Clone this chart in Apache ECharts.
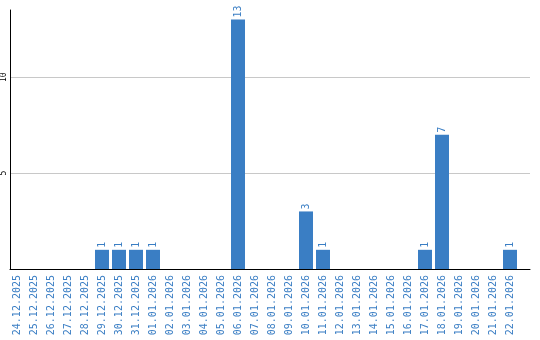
<!DOCTYPE html>
<html><head><meta charset="utf-8">
<script src="https://cdn.jsdelivr.net/npm/echarts@6/dist/echarts.min.js"></script>
<style>html,body{margin:0;padding:0;background:#fff}#c{width:540px;height:340px}</style>
</head><body><div id="c"></div>
<script>
var categories = ['24.12.2025','25.12.2025','26.12.2025','27.12.2025','28.12.2025','29.12.2025','30.12.2025','31.12.2025','01.01.2026','02.01.2026','03.01.2026','04.01.2026','05.01.2026','06.01.2026','07.01.2026','08.01.2026','09.01.2026','10.01.2026','11.01.2026','12.01.2026','13.01.2026','14.01.2026','15.01.2026','16.01.2026','17.01.2026','18.01.2026','19.01.2026','20.01.2026','21.01.2026','22.01.2026'];
var values = [0,0,0,0,0,1,1,1,1,0,0,0,0,13,0,0,0,3,1,0,0,0,0,0,1,7,0,0,0,1];
var yTicks = [5, 10];

var blue = '#3a7ec4';
var mono = 'DejaVu Sans Mono';
var chart = echarts.init(document.getElementById('c'));
chart.setOption({
  animation: false,
  grid: [
    {left: 10, right: 10, top: 10, bottom: 71},
    {left: 8.5, width: 510, top: 10, bottom: 71}
  ],
  xAxis: [
    {type: 'value', gridIndex: 0, min: 0, max: 1, axisLabel: {show: false}, axisTick: {show: false}, splitLine: {show: false},
     axisLine: {show: true, onZero: false, lineStyle: {color: '#000', width: 1}}},
    {type: 'category', gridIndex: 1, data: categories, axisLine: {show: false}, axisTick: {show: false},
     axisLabel: {interval: 0, rotate: 90, margin: 6, color: blue, fontFamily: mono, fontSize: 10}}
  ],
  yAxis: [
    {type: 'value', gridIndex: 0, min: 0, max: 13.5, interval: 5,
     axisLine: {show: true, lineStyle: {color: '#000', width: 1}}, axisTick: {show: false},
     splitLine: {show: true, showMinLine: false, showMaxLine: false, lineStyle: {color: '#c8c8c8', width: 1}},
     axisLabel: {rotate: 90, margin: 2, color: '#000', fontFamily: mono, fontSize: 8, showMinLabel: false, showMaxLabel: false,
       formatter: function (v) { return yTicks.indexOf(v) >= 0 ? String(v) : ''; }}},
    {type: 'value', gridIndex: 1, min: 0, max: 13.5, show: false}
  ],
  series: [{
    type: 'bar', xAxisIndex: 1, yAxisIndex: 1, data: values.map(function (v) { return v === 0 ? null : v; }),
    barWidth: 14, itemStyle: {color: blue},
    label: {show: true, position: 'top', rotate: 90, align: 'left', verticalAlign: 'middle', distance: 2,
      color: blue, fontFamily: mono, fontSize: 10}
  }]
});
</script></body></html>
